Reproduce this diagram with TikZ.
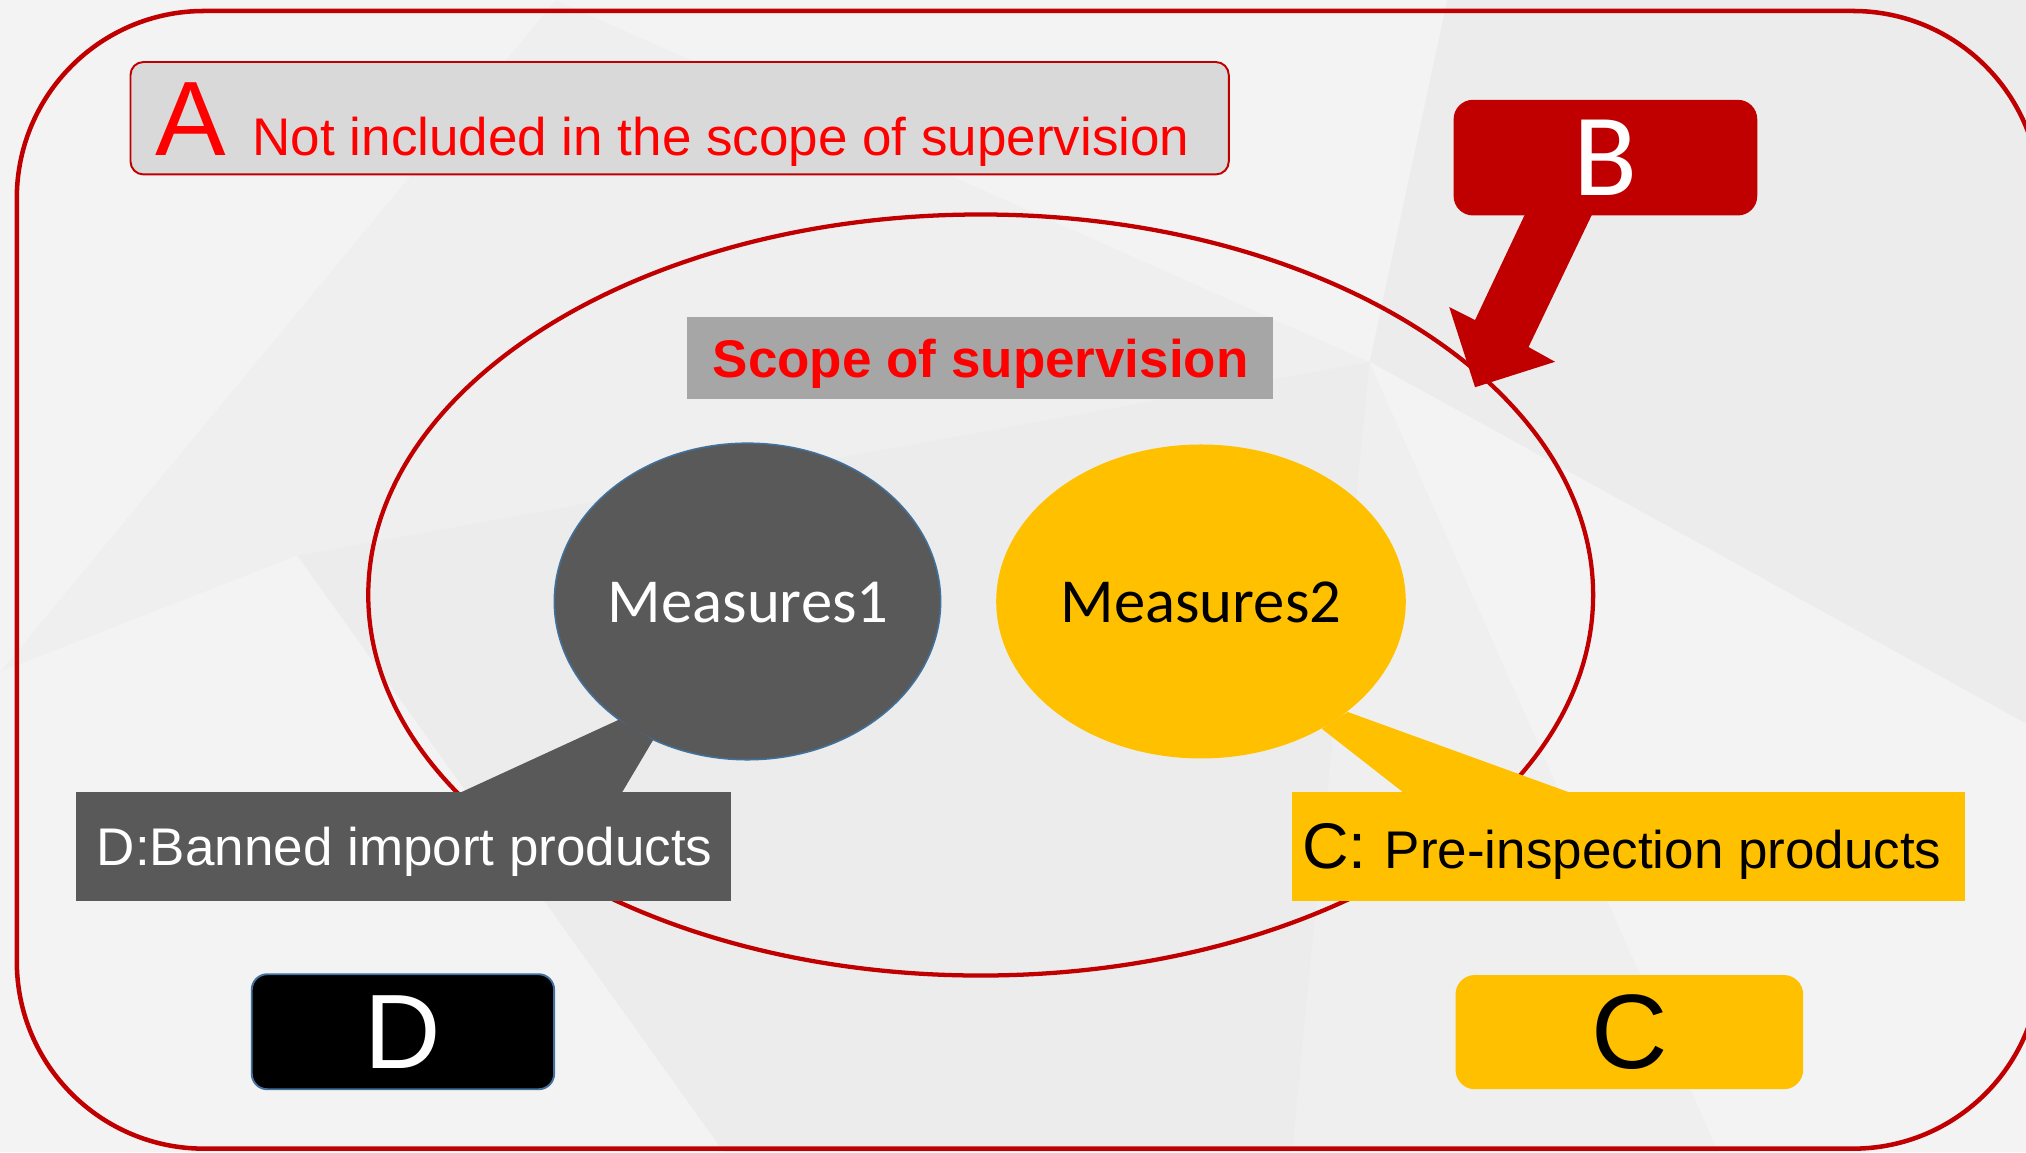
\documentclass[tikz,border=0pt]{standalone}
\usepackage{fontspec}
\setmainfont{Liberation Sans}
\newfontfamily\carlito{Carlito}
\usetikzlibrary{shapes.geometric}
\definecolor{dred}{HTML}{C00000}
\definecolor{bred}{HTML}{FF0000}
\definecolor{dgray}{HTML}{595959}
\definecolor{mgray}{HTML}{A6A6A6}
\definecolor{lgray}{HTML}{D9D9D9}
\definecolor{gold}{HTML}{FFC000}
\definecolor{steel}{HTML}{41719C}
\definecolor{bg}{HTML}{EFEFEF}
\begin{document}
\begin{tikzpicture}[x=0.1mm,y=-0.1mm,
  txt/.style={inner sep=0pt, outer sep=0pt, font=\fontsize{11.67pt}{14pt}\selectfont},
  bigtxt/.style={inner sep=0pt, outer sep=0pt, font=\fontsize{23.3pt}{28pt}\selectfont},
  meastxt/.style={inner sep=0pt, outer sep=0pt, font=\carlito\fontsize{13.8pt}{16pt}\selectfont},
  rectbox/.style={rectangle, inner sep=0pt, outer sep=0pt},
  ell/.style={ellipse, inner sep=0pt, outer sep=0pt},
  facetlight/.style={white, opacity=0.3},
  facetdark/.style={black, opacity=0.012}
]
\useasboundingbox (0,0) rectangle (1568,891.6);
\clip (0,0) rectangle (1568,891.6);
% background facets
\fill[bg] (0,0) rectangle (1568,891.6);
\fill[facetlight] (0,0) -- (430,0) -- (0,520) -- cycle;
\fill[facetlight] (430,0) -- (1120,0) -- (1060,280) -- cycle;
\fill[facetdark] (1120,0) -- (1568,0) -- (1568,200) -- (1060,280) -- cycle;
\fill[facetlight] (0,520) -- (230,430) -- (560,891.6) -- (0,891.6) -- cycle;
\fill[facetdark] (230,430) -- (1060,280) -- (1000,891.6) -- (560,891.6) -- cycle;
\fill[facetlight] (1060,280) -- (1568,560) -- (1568,891.6) -- (1330,891.6) -- cycle;
\fill[facetdark] (1060,280) -- (1568,200) -- (1568,560) -- cycle;
% outer frame
\draw[dred, line width=0.35mm, rounded corners=14.5mm] (13,8.5) rectangle (1579,889);
% scope ellipse
\node[ell, draw=dred, line width=0.33mm, minimum width=94.8mm, minimum height=58.9mm] (scope) at (759,460.5) {};
% scope label
\node[rectbox, fill=mgray, minimum width=45.3mm, minimum height=6.4mm] (scopelbl) at (758.5,277) {};
\node[txt, anchor=base, text=bred, font=\bfseries\fontsize{11.67pt}{14pt}\selectfont] (scopetxt) at (759,292) {Scope of supervision};
% measures ellipses
\node[ell, fill=dgray, draw=steel, line width=0.12mm, minimum width=29.9mm, minimum height=24.5mm] (m1) at (578.5,465.5) {};
\node[ell, fill=gold, minimum width=31.7mm, minimum height=24.3mm] (m2) at (929.5,465.5) {};
% callout tails
\fill[dgray] (479,557) -- (505.5,572.7) -- (481,614) -- (355,614) -- cycle;
\fill[gold] (1043,551) -- (1023,564) -- (1087,614) -- (1216.6,614) -- cycle;
\node[meastxt, text=white] (m1txt) at (579,466) {Measures1};
\node[meastxt, text=black] (m2txt) at (929.5,466) {Measures2};
% D and C labels
\node[rectbox, fill=dgray, minimum width=50.75mm, minimum height=8.4mm] (dlbl) at (312.25,655) {};
\node[txt, anchor=base west, text=white] (dtxt) at (75,669.5) {D:Banned import products};
\node[rectbox, fill=gold, minimum width=52.1mm, minimum height=8.4mm] (clbl) at (1260.5,655) {};
\node[txt, anchor=base west, text=black] (ctxt) at (1008,672.5) {{\fontsize{14.2pt}{16pt}\selectfont C: }Pre-inspection products};
% B box and arrow
\node[rectbox, fill=dred, rounded corners=1.5mm, minimum width=23.5mm, minimum height=8.95mm] (bbox) at (1242.5,122) {};
\coordinate (btip) at (1141.6,299.7);
\fill[dred] (1183,160) -- (1235,160) -- (1183,268.6) -- (1203.5,280) -- (btip) -- (1121.6,237.6) -- (1141.6,247.7) -- cycle;
\node[inner sep=0pt, text=white, font=\carlito\fontsize{25.9pt}{30pt}\selectfont] (btxt) at (bbox.center) {B};
% A box
\node[rectbox, fill=lgray, draw=dred, line width=0.15mm, rounded corners=1mm, minimum width=85mm, minimum height=8.7mm] (abox) at (526,91.5) {};
\node[bigtxt, anchor=base west, text=bred] (atxt) at (120.6,120) {A};
\node[txt, anchor=base west, text=bred] (anote) at (195.6,120) {Not included in the scope of supervision};
% D and C boxes
\node[rectbox, fill=black, draw=steel, line width=0.15mm, rounded corners=1.2mm, minimum width=23.4mm, minimum height=8.9mm] (dbox) at (311.85,798.5) {};
\node[bigtxt, text=white] (dboxtxt) at (dbox.center) {D};
\node[rectbox, fill=gold, rounded corners=1.5mm, minimum width=26.9mm, minimum height=8.84mm] (cbox) at (1261,798.8) {};
\node[bigtxt, text=black] (cboxtxt) at (cbox.center) {C};
\end{tikzpicture}
\end{document}
